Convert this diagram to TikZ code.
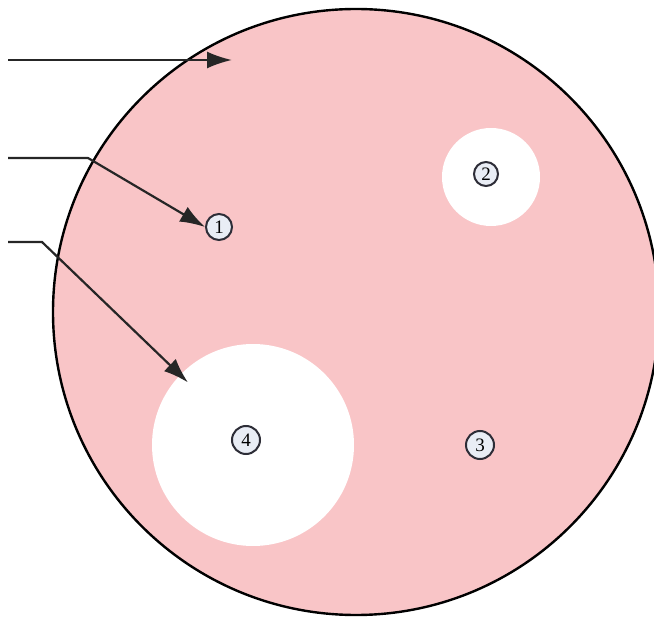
\documentclass[tikz,border=0pt]{standalone}
\usepackage{fontspec}
\setmainfont{Liberation Serif}
\usetikzlibrary{arrows.meta}
\definecolor{pinkfill}{RGB}{249,197,199}
\definecolor{labfill}{RGB}{233,237,245}
\definecolor{labdraw}{RGB}{45,45,55}
\begin{document}
\begin{tikzpicture}[x=1pt,y=-1pt,
  disk/.style={circle, draw=black, line width=2.4pt, fill=pinkfill, inner sep=0pt, minimum size=#1},
  hole/.style={circle, fill=white, inner sep=0pt, minimum size=#1},
  num/.style={circle, draw=labdraw, line width=2pt, fill=labfill, inner sep=0pt, minimum size=#1, font=\fontsize{19}{19}\selectfont},
  leader/.style={line width=2.2pt, draw=black!85, -{Latex[length=25pt,width=17pt]}}]
\useasboundingbox (0,0) rectangle (654,620);
\node[disk=606pt] (body) at (356,312) {};
\node[hole=98pt] (hole2) at (491,177) {};
\node[hole=202pt] (hole4) at (253,445) {};
\node[num=26pt] (n1) at (219,227) {1};
\node[num=24pt] (n2) at (486,174) {2};
\node[num=28pt] (n3) at (480,445) {3};
\node[num=28pt] (n4) at (246,440) {4};
\coordinate (s1) at (8,60);
\coordinate (e1) at (232,60);
\coordinate (s2) at (8,158);
\coordinate (b2) at (88,158);
\coordinate (s3) at (8,242);
\coordinate (b3) at (42,242);
\draw[leader] (s1) -- (e1);
\draw[leader] (s2) -- (b2) -- (n1.west);
\draw[leader, shorten >=-11pt] (s3) -- (b3) -- (hole4);
\end{tikzpicture}
\end{document}
